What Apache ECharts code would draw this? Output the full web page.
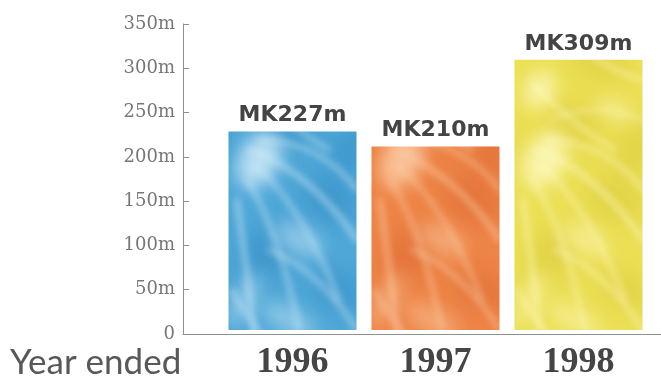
<!DOCTYPE html>
<html>
<head>
<meta charset="utf-8">
<script src="https://cdn.jsdelivr.net/npm/echarts@6/dist/echarts.min.js"></script>
<style>
  html, body { margin: 0; padding: 0; background: #fff; }
  #chart { width: 661px; height: 381px; }
</style>
</head>
<body>
<div id="chart"></div>
<script>
// Turnover by financial year
const years = ['1996', '1997', '1998'];
const revenue = [227, 210, 309];          // MK millions
const yTicks = [0, 50, 100, 150, 200, 250, 300, 350];
const axisTitle = 'Year ended';

// Palette for each year's bar: base tone, highlight, shadow
const palettes = [
  { base: '#4fa8d8', light: '#cfeaf8', dark: '#2f8ac2' },
  { base: '#ee8547', light: '#fccda6', dark: '#dc6630' },
  { base: '#ece055', light: '#fdf8bc', dark: '#d9c83a' }
];

// Silky swirl texture painted on a tile whose width equals one category step,
// so every bar picks up the same part of the pattern.
function makeTexture(p) {
  const w = 143, h = 381;
  const cv = document.createElement('canvas');
  cv.width = w; cv.height = h;
  const ctx = cv.getContext('2d');
  ctx.fillStyle = p.base;
  ctx.fillRect(0, 0, w, h);
  const bx = 86; // left edge of a bar inside the tile
  const wrap = (fn) => { for (const dx of [-w, 0, w]) { ctx.save(); ctx.translate(dx, 0); fn(); ctx.restore(); } };

  // soft darker clouds
  ctx.filter = 'blur(12px)';
  const clouds = [[100, 200, 30, 22], [60, 125, 26, 20], [110, 290, 28, 18], [35, 255, 24, 26], [85, 60, 30, 20], [120, 150, 18, 30]];
  wrap(() => {
    ctx.fillStyle = p.dark; ctx.globalAlpha = 0.5;
    clouds.forEach(c => { ctx.beginPath(); ctx.ellipse(bx + c[0], c[1], c[2], c[3], 0.4, 0, Math.PI * 2); ctx.fill(); });
  });

  // pale hazy patches
  const haze = [[30, 160, 20, 30], [25, 90, 14, 20], [70, 240, 26, 14], [60, 320, 30, 12], [100, 110, 20, 10], [15, 300, 10, 30]];
  ctx.filter = 'blur(9px)';
  wrap(() => {
    ctx.fillStyle = p.light;
    haze.forEach((c, k) => {
      ctx.globalAlpha = k < 2 ? 0.85 : 0.5;
      ctx.beginPath(); ctx.ellipse(bx + c[0], c[1], c[2], c[3], 0.5, 0, Math.PI * 2); ctx.fill();
    });
  });

  // light streaks sweeping down to the right
  const streaks = [
    [20, 150, 80, 170, 128, 240, 4],
    [25, 165, 70, 200, 110, 300, 3],
    [18, 180, 50, 230, 70, 330, 3],
    [30, 140, 90, 140, 128, 190, 3],
    [8, 200, 18, 270, 26, 340, 4],
    [35, 120, 80, 100, 128, 120, 2],
    [40, 250, 90, 270, 128, 330, 3],
    [15, 80, 50, 120, 100, 150, 3],
    [60, 40, 90, 70, 128, 80, 3],
    [2, 290, 20, 320, 40, 345, 3]
  ];
  ctx.filter = 'blur(3.5px)';
  wrap(() => {
    ctx.strokeStyle = p.light; ctx.lineCap = 'round';
    streaks.forEach(s => {
      ctx.globalAlpha = 0.6; ctx.lineWidth = s[6] + 1;
      ctx.beginPath(); ctx.moveTo(bx + s[0], s[1]);
      ctx.quadraticCurveTo(bx + s[2], s[3], bx + s[4], s[5]); ctx.stroke();
    });
  });
  ctx.filter = 'none';
  ctx.globalAlpha = 1;
  return cv;
}

const barData = revenue.map((v, i) => ({
  value: v,
  itemStyle: { color: { image: makeTexture(palettes[i]), repeat: 'repeat' } }
}));

const chart = echarts.init(document.getElementById('chart'), null, { renderer: 'canvas' });
chart.setOption({
  animation: false,
  backgroundColor: '#ffffff',
  grid: [
    { left: 221, right: 11, top: 24, bottom: 47 },   // bars
    { left: 183, right: 0, top: 24, bottom: 47 }     // frame with axis lines
  ],
  xAxis: [
    {
      type: 'category', gridIndex: 0, data: years,
      axisLine: { show: false }, axisTick: { show: false },
      axisLabel: {
        margin: 15, color: '#454545', fontSize: 36, fontWeight: 'bold',
        fontFamily: 'Liberation Serif'
      }
    },
    {
      type: 'value', gridIndex: 1, min: 0, max: 1,
      axisLine: { show: true, lineStyle: { color: '#909090', width: 1 } },
      axisTick: { show: false }, axisLabel: { show: false }, splitLine: { show: false }
    }
  ],
  yAxis: [
    { type: 'value', gridIndex: 0, min: 0, max: 350, interval: 50, show: false },
    {
      type: 'value', gridIndex: 1, min: 0, max: 350, interval: 50,
      axisLine: { show: true, lineStyle: { color: '#909090', width: 1 } },
      axisTick: { show: true, inside: true, length: 6, lineStyle: { color: '#909090' } },
      splitLine: { show: false },
      axisLabel: {
        margin: 8, color: '#777', fontSize: 18, fontFamily: 'DejaVu Serif',
        formatter: v => (yTicks.includes(v) && v !== 0) ? v + 'm' : String(v)
      }
    }
  ],
  series: [{
    type: 'bar', xAxisIndex: 0, yAxisIndex: 0,
    data: barData, barWidth: 128,
    label: {
      show: true, position: 'top', distance: 5,
      formatter: p => 'MK' + p.value + 'm',
      color: '#444', fontSize: 22, fontWeight: 'bold', fontFamily: 'DejaVu Sans'
    }
  }],
  graphic: [{
    type: 'text', left: 10, top: 345,
    style: { text: axisTitle, fill: '#585858', fontSize: 35, fontFamily: 'Lato', fontWeight: 'normal' }
  }]
});
</script>
</body>
</html>
